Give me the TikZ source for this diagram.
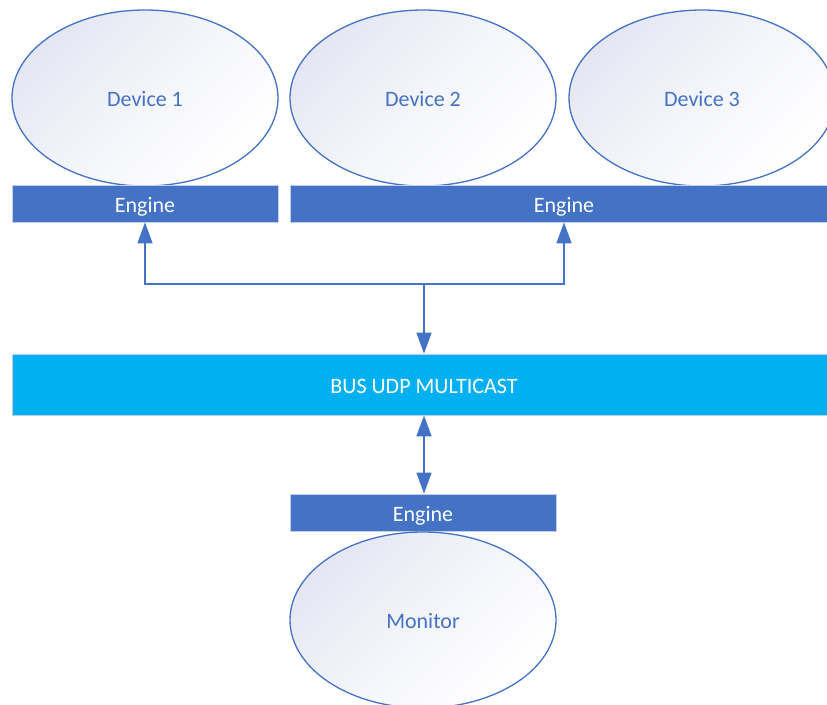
\documentclass[tikz,border=0pt]{standalone}
\usepackage{fontspec}
\setmainfont{Carlito}
\usetikzlibrary{shapes.geometric,arrows.meta}
\definecolor{accent}{HTML}{4472C4}
\definecolor{busblue}{HTML}{00B0F0}
\definecolor{edgegray}{HTML}{C5D0E6}
\definecolor{shadeblue}{HTML}{E4E7F3}
% move a label down without changing the box it occupies
\newcommand{\lowered}[2][3pt]{\raisebox{-#1}[\height][\depth]{#2}}
\tikzset{
  labelfont/.style={font=\fontsize{22pt}{26pt}\selectfont},
  device/.style={ellipse, draw=accent, line width=1.3pt, inner sep=0pt,
    minimum width=266pt, minimum height=176pt,
    top color=shadeblue, bottom color=white, middle color=white!60!shadeblue,
    shading angle=45, text=accent, labelfont},
  enginebar/.style={rectangle, draw=edgegray, line width=0.8pt, fill=accent,
    inner sep=0pt, minimum height=37pt, text=white, labelfont},
  busbar/.style={rectangle, draw=edgegray, line width=0.8pt, fill=busblue,
    inner sep=0pt, minimum height=61pt, text=white, labelfont},
  link/.style={draw=accent, line width=1.6pt},
  tip/.style={-{Triangle[width=15pt,length=21pt]}},
  bothtips/.style={{Triangle[width=15pt,length=21pt]}-{Triangle[width=15pt,length=21pt]}}
}
\begin{document}
\begin{tikzpicture}[x=1pt,y=-1pt]
  \useasboundingbox (0,0) rectangle (827,704);
  \clip (0,0) rectangle (827,704);
  \fill[white] (0,0) rectangle (827,704);

  % devices and their engines
  \node[device] (dev1) at (145,98) {\lowered[0.8pt]{Device 1}};
  \node[device] (dev2) at (423,98) {\lowered[0.8pt]{Device 2}};
  \node[device] (dev3) at (702,98) {\lowered[0.8pt]{Device 3}};
  \node[enginebar, minimum width=266pt] (eng1) at (145,203.5) {\lowered{Engine}};
  \node[enginebar, minimum width=548pt] (eng2) at (564,203.5) {\lowered{Engine}};

  % shared bus
  \node[busbar, minimum width=824pt] (bus) at (424,384.5) {\lowered[2pt]{BUS UDP MULTICAST}};

  % monitor and its engine
  \node[enginebar, minimum width=266pt] (eng3) at (423,512.5) {\lowered{Engine}};
  \node[device] (mon) at (423,620) {\lowered[0.8pt]{Monitor}};

  % connectors
  \coordinate (hub) at (424,284);
  \draw[link, tip] (hub) -| (eng1.south);
  \draw[link, tip] (hub) -| (eng2.south);
  \draw[link, tip] (hub) -- (bus.north);
  \draw[link, bothtips] (bus.south) -- (eng3.north -| bus.south);
\end{tikzpicture}
\end{document}
